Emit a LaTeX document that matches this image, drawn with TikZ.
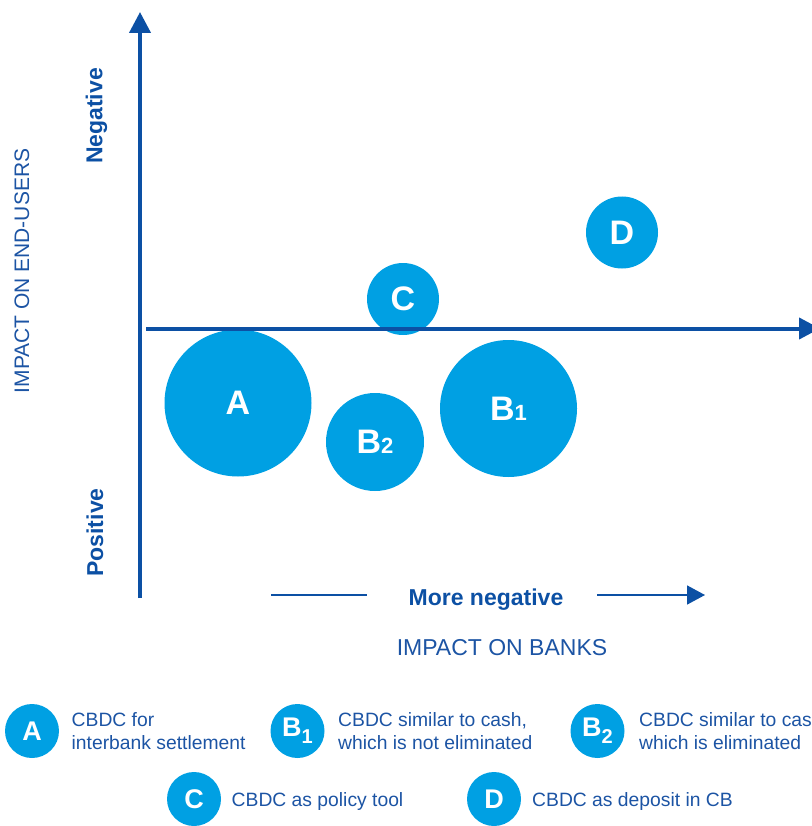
\documentclass[tikz,border=0pt]{standalone}
\usepackage{fontspec}
\setmainfont{Liberation Sans}
\usetikzlibrary{arrows.meta}

\definecolor{axisblue}{RGB}{12,80,164}
\definecolor{textblue}{RGB}{28,84,164}
\definecolor{cbdcblue}{RGB}{0,160,227}

\newcommand\bigsub[1]{{\fontsize{22}{22}\selectfont #1}}
\newcommand\keysub[1]{\raisebox{-7pt}{\fontsize{20}{20}\selectfont #1}}

\begin{document}
\begin{tikzpicture}[x=1pt, y=-1pt,
  axis/.style={draw=axisblue, line width=4pt},
  thinaxis/.style={draw=axisblue, line width=1.6pt},
  bubble/.style={circle, fill=cbdcblue, text=white, inner sep=0pt, minimum size=#1,
    font=\bfseries\fontsize{34}{34}\selectfont},
  keybubble/.style={circle, fill=cbdcblue, text=white, inner sep=0pt, minimum size=54pt,
    font=\bfseries\fontsize{27}{27}\selectfont},
  keytext/.style={anchor=west, align=left, inner sep=0pt, text=textblue,
    font=\fontsize{19.3}{23}\selectfont},
  axtext/.style={inner sep=0pt, text=textblue, font=\fontsize{23}{23}\selectfont},
  axbold/.style={axtext, text=axisblue, font=\bfseries\fontsize{23}{23}\selectfont}]
\useasboundingbox (0,0) rectangle (811,826);

% bubbles
\node[bubble=147pt] (A) at (238,403) {A};
\node[bubble=137pt] (B1) at (508.5,408.5) {B\bigsub{1}};
\node[bubble=98pt] (B2) at (375,442) {B\bigsub{2}};
\node[bubble=72pt] (C) at (403,299) {C};
\node[bubble=72pt] (D) at (622,232.5) {D};

% axes
\coordinate (o) at (140,598);
\coordinate (ytop) at (140,12);
\coordinate (x0) at (146,328.5);
\coordinate (xend) at (820,328.5);
\draw[axis, -{Triangle[length=21pt,width=21pt]}] (o) -- (ytop);
\draw[axis, -{Triangle[length=21pt,width=21pt]}] (x0) -- (xend);

\node[axbold, rotate=90] (neg) at (96.5,116) {Negative};
\node[axbold, rotate=90] (pos) at (95,532.5) {Positive};
\node[axtext, rotate=90, font=\fontsize{21}{21}\selectfont] (yname) at (22,271) {IMPACT ON END-USERS};

\node[axbold, anchor=base] (mn) at (486,605) {More negative};
\coordinate (mnA) at (271,595);
\coordinate (mnB) at (367,595);
\coordinate (mnC) at (597,595);
\coordinate (mnD) at (705,595);
\draw[thinaxis] (mnA) -- (mnB);
\draw[thinaxis, -{Triangle[length=18pt,width=19pt]}] (mnC) -- (mnD);
\node[axtext] (xname) at (502,648) {IMPACT ON BANKS};

% legend
\foreach \n/\x/\y/\lab/\tx/\ty/\txt in {
  kA/32/731/A/71.5/731/{CBDC for\\interbank settlement},
  kB1/297.5/731/{B\keysub{1}}/338/731/{CBDC similar to cash,\\which is not eliminated},
  kB2/597.5/731/{B\keysub{2}}/639/731/{CBDC similar to cash,\\which is eliminated},
  kC/194/799/C/231.5/801/{CBDC as policy tool},
  kD/494/799/D/532/801/{CBDC as deposit in CB}} {
  \node[keybubble] (\n) at (\x,\y) {\lab};
  \node[keytext] (\n t) at (\tx,\ty) {\txt};
}
\end{tikzpicture}
\end{document}
